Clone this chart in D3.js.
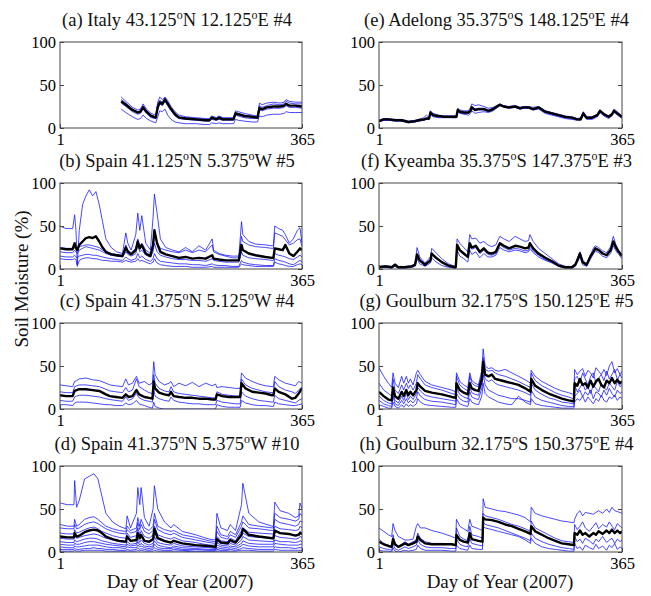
<!DOCTYPE html>
<html><head><meta charset="utf-8">
<script src="https://cdn.jsdelivr.net/npm/d3@7"></script>
<style>body{margin:0;background:#fff}svg{display:block}</style>
</head><body><div id="chart"></div>
<script>
// ---------- DATA ----------
const xTicks = [1, 365];
const yTicks = [0, 50, 100];
const yLabel = "Soil Moisture (%)";
const xLabel = "Day of Year (2007)";

const titles = [
  ["(a) Italy 43.125","o","N 12.125","o","E #4"],
  ["(b) Spain 41.125","o","N 5.375","o","W #5"],
  ["(c) Spain 41.375","o","N 5.125","o","W #4"],
  ["(d) Spain 41.375","o","N 5.375","o","W #10"],
  ["(e) Adelong 35.375","o","S 148.125","o","E #4"],
  ["(f) Kyeamba 35.375","o","S 147.375","o","E #3"],
  ["(g) Goulburn 32.175","o","S 150.125","o","E #5"],
  ["(h) Goulburn 32.175","o","S 150.375","o","E #4"]
];

// (a)
const a_days = [93,100,110,118,122,126,131,138,145,148,151,155,159,163,168,174,180,190,205,220,226,229,236,240,246,255,262,265,269,278,290,298,301,305,312,322,332,338,341,346,355,365];
const a_mean = [31,27,21,18,19,24,19,14,12,24,30,28,33,28,22,16,12,11,10,9,9,12,10,12,10,10,10,17,16,14,13,12,23,22,24,25,25,26,28,26,26,25];
const a_sites = [
  [36,31,24,21,22,28,22,17,15,30,36,33,36,32,25,19,15,13,12,11,11,14,12,14,12,12,12,20,19,17,15,14,29,27,29,30,29,30,33,31,30,30],
  [33,29,22,19,20,26,20,15,13,27,32,30,35,30,23,17,13,12,11,10,10,13,11,13,11,11,11,18,17,15,14,13,26,24,26,28,27,28,31,29,28,28],
  [29,25,19,16,17,22,17,12,11,22,28,26,31,26,20,14,11,10,9,8,8,10,9,10,9,9,9,15,14,12,11,11,21,20,22,23,23,24,26,24,24,23],
  [22,18,13,10,11,15,11,8,6,13,20,19,22,15,10,7,6,5,5,4,4,6,5,6,5,5,5,10,9,8,7,7,14,13,15,16,16,17,19,18,18,18]
];

// (b)
const b_days = [1,10,20,23,25,27,30,35,40,45,50,55,60,65,70,78,86,95,100,103,108,115,118,121,124,130,137,141,143,147,152,160,170,180,190,200,210,220,230,232,240,250,260,270,274,276,285,295,310,320,322,324,330,336,340,346,352,358,362,365];
const b_mean = [24,23,23,30,24,22,28,32,36,37,36,38,32,25,20,17,16,15,25,20,17,22,32,24,28,18,15,28,45,30,20,17,15,13,14,12,13,12,16,12,11,10,10,10,28,22,18,16,14,13,13,24,23,22,28,18,15,20,24,22];
const b_sites = [
  [50,47,47,63,45,5,45,75,85,92,85,90,75,55,35,25,20,18,42,30,22,40,65,45,62,30,22,60,87,65,35,25,22,20,25,20,27,22,35,22,18,16,15,15,55,40,32,29,28,27,27,50,47,45,40,30,35,45,48,30],
  [25,24,24,28,25,22,26,27,28,28,27,26,25,22,20,18,17,16,28,22,19,24,35,26,30,22,18,30,45,30,24,22,20,19,22,19,22,20,28,20,17,15,13,13,38,32,28,26,25,24,24,42,40,38,34,28,30,34,35,26],
  [20,19,19,22,20,18,22,24,26,25,24,23,22,20,18,16,15,14,20,17,15,18,28,20,22,16,14,20,30,20,16,14,12,11,11,10,10,9,12,10,9,8,8,8,20,16,13,12,11,10,10,18,16,15,14,12,11,14,16,14],
  [15,14,14,16,14,13,15,16,17,17,16,16,15,14,13,12,11,10,14,12,10,12,18,13,15,11,9,12,18,12,9,8,7,6,6,5,5,4,6,5,4,4,3,3,10,8,6,5,4,4,4,12,10,9,8,6,5,8,10,8],
  [12,11,11,12,11,3,10,12,13,13,12,12,11,10,10,9,9,8,10,9,8,9,12,9,10,8,6,8,12,7,5,4,3,3,3,2,2,2,3,2,2,2,2,2,6,5,4,3,3,3,3,8,6,5,4,3,3,5,6,5]
];

// (c)
const c_days = [1,10,20,23,26,30,40,50,60,70,76,85,95,100,104,110,116,120,128,135,140,142,144,150,158,165,168,172,180,190,200,210,220,230,235,237,245,255,265,272,274,280,290,300,310,320,322,324,330,340,350,355,360,365];
const c_mean = [16,15,15,21,22,23,23,22,21,17,15,14,13,17,14,15,22,17,14,13,12,32,24,19,17,16,20,15,14,13,13,12,12,11,11,17,15,14,14,14,30,24,20,19,18,16,16,24,20,17,12,13,18,24];
const c_sites = [
  [28,27,26,32,33,35,36,34,33,30,28,27,26,35,28,30,38,30,32,28,30,55,40,32,28,30,32,26,30,27,31,26,30,27,29,25,26,25,24,24,42,36,32,29,27,26,26,38,34,30,28,27,32,30],
  [20,19,19,26,27,28,28,27,26,23,21,20,19,25,20,22,35,26,22,19,18,40,30,24,21,20,26,20,18,17,16,15,14,13,13,20,17,16,15,15,35,28,24,22,20,19,19,32,26,22,20,18,22,26],
  [10,9,9,14,15,16,16,15,14,12,11,10,9,14,10,12,18,13,10,9,8,22,15,12,10,9,14,10,8,7,6,6,5,5,5,10,8,7,6,6,20,15,12,10,9,8,8,16,12,10,8,7,10,12],
  [5,5,4,7,8,8,8,7,6,5,5,4,4,7,5,6,10,6,4,2,1,8,3,1,0,0,0,0,0,0,0,0,0,0,0,5,3,2,2,2,10,7,5,4,4,3,3,8,6,5,4,4,5,6]
];

// (d)
const d_days = [1,12,22,23,26,30,38,45,52,58,64,70,80,90,100,102,107,116,118,121,123,128,135,141,143,148,158,168,172,185,205,225,235,237,243,253,257,265,274,276,285,300,320,322,324,332,345,355,360,362,365];
const d_mean = [18,17,17,22,18,19,23,25,26,25,22,18,15,13,12,18,13,14,22,16,20,13,12,15,27,16,13,11,13,10,8,7,6,15,11,10,14,11,20,27,20,18,16,16,25,22,21,19,20,22,21];
const d_sites = [
  [57,55,55,83,52,60,85,88,91,85,65,45,35,30,27,42,28,45,75,55,75,40,30,50,77,50,35,28,32,24,20,15,14,45,28,25,32,25,55,80,45,35,30,30,58,48,45,40,42,57,50],
  [32,30,30,38,30,32,38,40,41,38,34,30,27,25,24,30,25,28,40,30,38,28,25,30,45,30,26,24,25,20,17,13,12,30,20,18,24,20,35,42,32,30,28,28,45,40,38,36,38,45,42],
  [28,27,27,32,27,28,32,34,35,33,30,27,24,22,21,26,22,24,34,26,32,24,21,25,38,26,22,20,22,17,14,11,10,24,17,15,20,17,30,35,28,27,25,25,38,34,32,30,32,36,35],
  [22,21,21,26,22,23,26,28,29,27,24,22,19,17,16,22,17,19,28,20,25,18,16,20,30,20,17,15,17,13,11,8,8,18,13,12,16,13,25,28,23,22,21,21,30,27,26,25,26,30,28],
  [16,15,15,19,16,17,19,20,21,20,18,16,14,12,11,16,12,14,22,15,19,13,11,14,24,15,12,11,13,10,8,6,6,14,10,9,12,10,18,22,18,17,16,16,24,22,21,20,21,24,22],
  [12,11,11,14,12,13,15,16,16,15,13,12,10,9,8,12,9,10,16,11,14,10,8,10,18,11,9,8,10,7,6,5,4,11,8,7,10,8,14,18,14,13,12,12,19,17,16,15,16,18,17],
  [9,8,8,10,9,9,11,12,12,11,10,9,8,7,6,9,7,8,12,8,10,7,6,7,13,8,6,5,7,5,4,3,3,8,6,5,7,6,10,13,10,9,9,9,14,12,12,11,12,13,12],
  [6,5,5,7,6,6,7,8,8,8,7,6,5,5,4,6,5,5,8,6,7,5,4,5,9,5,4,4,5,3,3,2,2,5,4,3,5,4,7,9,7,6,6,6,10,9,8,8,8,9,9],
  [3,3,3,4,3,3,4,4,5,4,4,3,3,2,2,3,2,3,5,3,4,3,2,3,5,3,2,2,3,2,1,1,1,3,2,2,3,2,4,5,4,3,3,3,6,5,5,4,5,5,5],
  [1,1,1,2,1,1,2,2,2,2,2,1,1,1,1,1,1,1,2,1,2,1,1,1,2,1,1,1,1,1,0,0,0,1,1,1,1,1,2,2,2,1,1,1,3,2,2,2,2,2,2]
];

// (e)
const e_days = [1,8,15,25,35,45,55,60,68,72,76,78,82,90,100,110,117,119,122,128,135,138,140,145,150,158,165,172,182,188,195,205,212,218,225,232,240,250,260,270,280,290,298,303,307,312,320,328,332,338,345,350,353,358,365];
const e_mean = [8,10,10,9,9,7,8,9,10,11,11,18,15,14,13,13,13,21,19,18,18,20,24,21,22,22,20,22,27,25,24,25,23,24,24,22,24,19,17,15,13,12,10,10,17,12,12,15,20,16,13,16,20,17,13];
const e_sites = [
  [9,11,11,10,10,8,9,10,12,15,12,20,17,15,14,14,14,23,21,20,20,24,28,26,27,25,23,24,28,26,25,26,24,25,25,24,25,20,18,16,14,13,11,12,19,13,13,16,21,17,14,17,22,19,14],
  [7,9,9,8,8,6,7,8,9,10,10,16,13,12,12,12,12,19,17,16,15,17,20,17,18,19,18,20,26,24,23,24,22,23,23,21,22,17,15,13,11,10,9,9,15,10,10,13,18,14,11,14,18,15,11],
  [8,10,10,9,9,7,8,9,10,12,11,17,15,14,13,13,13,20,19,18,18,21,25,22,23,23,21,23,27,25,24,25,23,24,24,22,24,20,17,15,13,12,10,11,18,12,12,15,20,16,13,16,21,17,13],
  [8,9,9,9,8,7,7,8,9,10,10,17,14,13,13,12,12,21,18,17,17,19,23,20,21,21,19,21,27,25,23,24,22,23,23,21,23,18,16,14,12,11,10,10,16,11,11,14,19,15,12,15,20,16,12]
];

// (f)
const f_days = [1,10,20,25,30,40,50,55,58,62,70,78,80,85,95,105,115,116,118,122,128,134,137,140,146,152,158,164,170,176,182,188,196,205,212,220,225,227,232,240,250,260,270,280,290,295,298,302,306,312,318,322,325,330,336,342,348,352,356,360,365];
const f_mean = [2,3,2,5,2,2,3,5,17,10,5,10,18,14,8,4,2,2,28,22,18,14,30,25,27,20,24,19,18,20,30,27,24,27,26,24,25,30,24,18,13,9,4,2,2,5,10,18,8,5,15,20,24,22,18,16,22,32,25,20,15];
const f_sites = [
  [3,4,3,6,3,3,4,6,25,14,7,14,24,20,12,6,3,3,35,30,25,20,40,35,36,30,32,28,26,28,38,35,32,38,35,32,33,40,32,24,18,12,6,3,3,6,12,20,10,6,17,24,27,25,21,19,26,38,28,22,17],
  [1,2,1,3,1,1,2,3,12,6,3,7,13,9,4,2,1,1,22,15,12,8,22,17,20,13,18,14,14,16,25,22,20,22,21,19,20,24,19,14,10,7,3,1,1,3,8,14,5,3,12,17,21,19,15,13,18,27,21,17,12],
  [2,3,2,5,2,2,3,5,15,9,5,9,17,13,8,4,2,2,27,21,17,14,28,23,25,18,22,17,16,18,28,25,22,24,23,21,22,27,21,16,11,8,4,2,2,5,10,19,8,5,15,20,24,22,18,16,22,30,25,20,15]
];

// (g)
const g_days = [1,8,15,20,22,25,30,35,38,42,45,48,52,57,59,63,70,80,95,110,116,117,122,128,134,137,140,145,150,155,157,160,165,170,175,180,190,200,210,220,228,229,235,245,255,265,275,285,292,293,294,298,302,306,310,314,318,322,326,330,334,338,342,346,350,354,358,362,365];
const g_mean = [20,15,11,10,25,15,12,20,15,22,16,20,16,22,30,26,21,19,17,14,13,30,22,19,17,30,24,22,21,35,55,40,38,40,35,34,32,30,28,24,20,35,27,22,18,15,12,10,9,9,30,27,35,28,30,25,33,26,32,35,28,25,33,30,36,30,34,30,32];
const g_sites = [
  [48,38,30,25,42,30,25,38,30,38,30,35,28,42,45,40,32,28,25,22,20,42,32,28,25,42,33,30,28,45,70,50,47,48,45,44,46,42,38,34,30,45,38,32,28,24,21,19,17,17,46,40,44,47,38,45,42,36,48,44,40,46,39,50,55,42,47,40,44],
  [30,22,18,15,35,22,18,28,22,30,24,28,22,30,40,35,28,25,22,18,17,38,28,24,21,38,30,27,26,40,60,46,44,45,42,40,38,35,32,28,25,42,33,27,23,19,16,14,12,12,35,38,30,42,35,28,38,42,30,36,40,33,44,35,40,46,34,40,36],
  [15,10,7,6,20,10,7,15,10,18,11,15,11,18,25,21,16,14,12,10,9,25,17,14,12,25,19,17,16,30,48,35,32,34,30,28,26,24,22,19,16,30,22,17,13,11,8,7,6,6,28,20,25,30,22,26,18,28,24,20,30,25,22,30,26,22,32,26,28],
  [10,6,4,3,15,6,4,10,6,12,7,10,7,12,20,15,11,9,8,6,5,18,12,9,8,20,14,12,11,24,40,28,22,20,18,16,14,12,12,10,8,22,14,10,8,6,4,3,3,3,15,18,22,14,20,16,22,12,20,18,14,22,16,24,18,14,22,18,20],
  [5,3,1,1,8,3,1,5,2,6,3,5,3,6,12,8,5,4,3,2,2,12,6,4,3,12,8,6,5,15,30,18,14,12,10,8,6,5,15,8,5,12,6,4,3,2,1,1,1,1,8,12,10,15,8,14,10,6,12,9,16,10,8,14,12,16,10,14,12]
];

// (h)
const h_days = [1,8,15,20,22,25,30,40,45,52,57,59,63,70,80,95,110,116,117,122,128,134,137,140,150,156,157,160,170,180,190,200,210,220,228,229,235,245,255,265,275,285,293,294,298,302,306,310,316,322,326,330,336,342,346,350,354,358,362,365];
const h_mean = [12,9,7,6,15,9,6,10,8,10,12,18,14,10,9,9,9,8,20,14,12,11,22,15,13,12,40,38,37,35,32,30,27,24,21,30,24,20,16,13,10,9,8,22,20,25,20,22,18,22,20,24,21,25,22,26,22,25,22,24];
const h_sites = [
  [28,24,20,18,33,25,18,14,14,15,30,33,28,28,25,22,18,16,38,30,27,24,38,30,27,25,62,52,50,48,47,45,43,40,35,52,45,42,40,38,36,35,34,38,45,48,42,46,45,44,46,48,45,50,46,52,48,47,46,45],
  [15,10,8,6,20,10,6,12,9,12,14,22,16,12,10,10,9,8,28,18,15,13,30,20,18,16,45,42,40,38,35,32,30,27,24,36,28,24,20,16,13,12,11,32,26,30,35,28,24,30,34,27,32,29,35,30,26,33,30,28],
  [6,4,3,2,10,4,2,6,4,6,8,14,9,6,5,5,4,4,15,9,7,6,15,10,8,7,35,32,30,28,25,22,19,16,13,22,16,12,9,7,5,4,3,18,12,15,10,16,13,9,15,12,18,11,14,16,10,15,12,14],
  [2,1,1,0,5,1,0,2,1,2,3,8,4,2,2,2,1,1,8,4,3,2,8,4,3,3,30,28,26,24,22,20,18,14,10,16,10,6,4,3,2,1,1,10,4,6,2,8,5,3,9,4,7,2,8,5,10,3,6,4]
];

const panels = [
  {days:a_days, mean:a_mean, sites:a_sites},
  {days:b_days, mean:b_mean, sites:b_sites},
  {days:c_days, mean:c_mean, sites:c_sites},
  {days:d_days, mean:d_mean, sites:d_sites},
  {days:e_days, mean:e_mean, sites:e_sites},
  {days:f_days, mean:f_mean, sites:f_sites},
  {days:g_days, mean:g_mean, sites:g_sites},
  {days:h_days, mean:h_mean, sites:h_sites}
];

// ---------- LAYOUT ----------
const W = 651, H = 596;
const colX = [[60, 302], [379, 622]];
const rowTop = [42, 183, 323, 466];
const PH = 86;
const FONT = "'Liberation Serif','Times New Roman',serif";

const svg = d3.select("#chart").append("svg").attr("width", W).attr("height", H)
  .style("font-family", FONT);

panels.forEach((p, i) => {
  const col = Math.floor(i / 4), row = i % 4;
  const [x0, x1] = colX[col];
  const y0 = rowTop[row], y1 = y0 + PH;
  const x = d3.scaleLinear().domain([1, 365]).range([x0, x1]);
  const y = d3.scaleLinear().domain([0, 100]).range([y1, y0]);
  const g = svg.append("g");

  const clipId = "clip" + i;
  svg.append("clipPath").attr("id", clipId).append("rect")
    .attr("x", x0).attr("y", y0).attr("width", x1 - x0).attr("height", PH);

  const line = d3.line().x(d => x(d[0])).y(d => y(d[1]));
  const lines = g.append("g").attr("clip-path", `url(#${clipId})`);
  p.sites.forEach(s => {
    lines.append("path").datum(p.days.map((d, k) => [d, s[k]]))
      .attr("d", line).attr("fill", "none")
      .attr("stroke", "#1010ff").attr("stroke-width", 0.9).attr("stroke-opacity", 0.85)
      .attr("stroke-linejoin", "round");
  });
  lines.append("path").datum(p.days.map((d, k) => [d, p.mean[k]]))
    .attr("d", line).attr("fill", "none")
    .attr("stroke", "#000").attr("stroke-width", 2.4).attr("stroke-linejoin", "round");

  // axes
  const ya = g.append("g").attr("transform", `translate(${x0},0)`)
    .call(d3.axisLeft(y).tickValues(yTicks).tickSizeInner(-4).tickSizeOuter(0).tickPadding(4));
  const yr = g.append("g").attr("transform", `translate(${x1},0)`)
    .call(d3.axisRight(y).tickValues(yTicks).tickSizeInner(-4).tickSizeOuter(0).tickFormat(""));
  const xa = g.append("g").attr("transform", `translate(0,${y1})`)
    .call(d3.axisBottom(x).tickValues(xTicks).tickSizeInner(-4).tickSizeOuter(0).tickPadding(5));
  [ya, yr, xa].forEach(a => {
    a.select(".domain").remove();
    a.selectAll("line").attr("stroke", "#444");
    a.selectAll("text").attr("fill", "#000").style("font-family", FONT).style("font-size", "16.5px");
  });
  ya.selectAll("text").attr("dy", "0.35em");

  g.append("rect").attr("x", x0).attr("y", y0).attr("width", x1 - x0).attr("height", PH)
    .attr("fill", "none").attr("stroke", "#444").attr("stroke-width", 1);

  // title
  const t = g.append("text").attr("x", (x0 + x1) / 2 - 4).attr("y", y0 - 16)
    .attr("text-anchor", "middle").style("font-size", "18.5px").attr("fill", "#111");
  titles[i].forEach((part, k) => {
    if (part === "o") {
      t.append("tspan").text("o").style("font-size", "12px").attr("dy", -7);
    } else {
      const ts = t.append("tspan").text(part);
      if (k > 0) ts.attr("dy", 7);
    }
  });
});

// axis labels
svg.append("text").attr("transform", "translate(28,279) rotate(-90)")
  .attr("text-anchor", "middle").style("font-size", "19px").attr("fill", "#111").text(yLabel);
svg.append("text").attr("x", 180).attr("y", 588).attr("text-anchor", "middle")
  .style("font-size", "19px").attr("fill", "#111").text(xLabel);
svg.append("text").attr("x", 500).attr("y", 588).attr("text-anchor", "middle")
  .style("font-size", "19px").attr("fill", "#111").text(xLabel);
</script></body></html>
